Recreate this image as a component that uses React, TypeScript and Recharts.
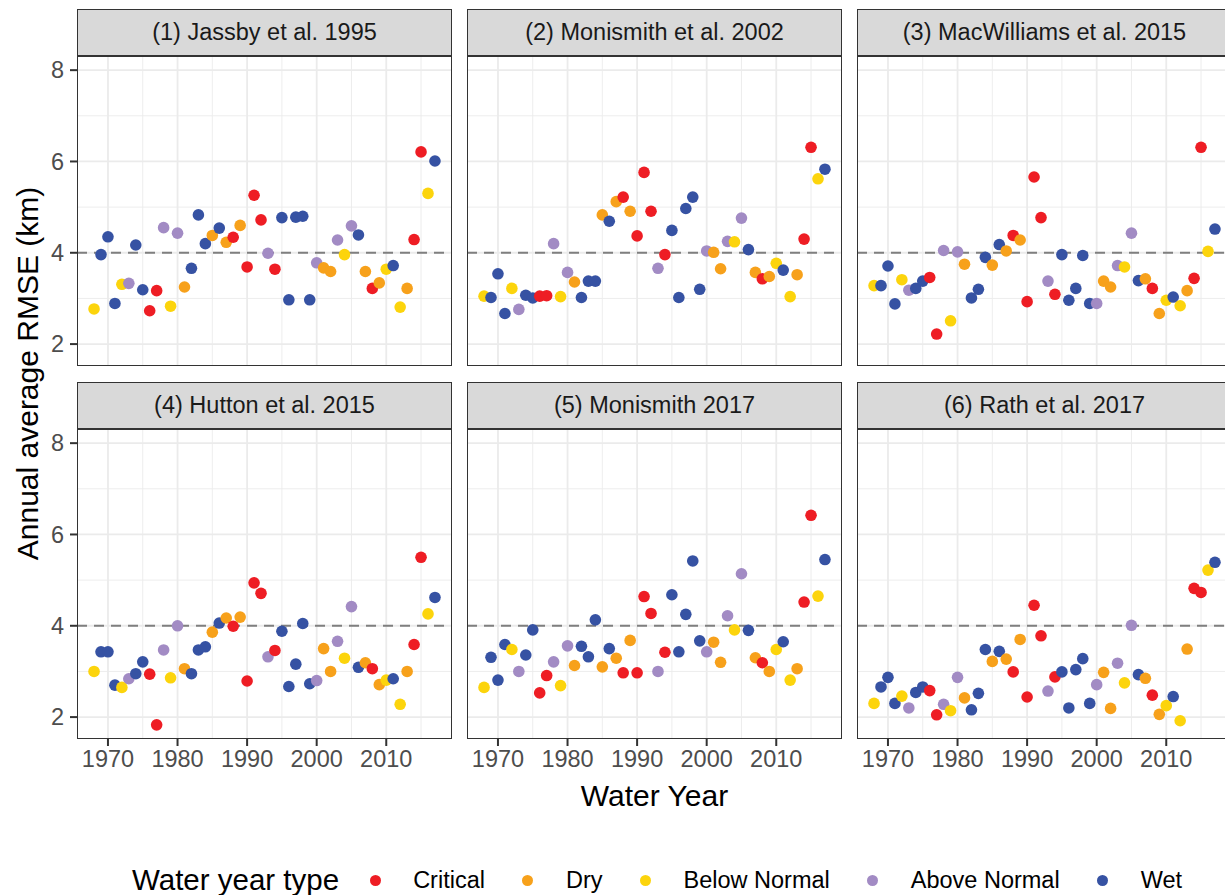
import React from 'react';
import { ScatterChart, Scatter, XAxis, YAxis, CartesianGrid } from 'recharts';

// ---------- data ----------
const YEARS = [
  1968, 1969, 1970, 1971, 1972, 1973, 1974, 1975, 1976, 1977,
  1978, 1979, 1980, 1981, 1982, 1983, 1984, 1985, 1986, 1987,
  1988, 1989, 1990, 1991, 1992, 1993, 1994, 1995, 1996, 1997,
  1998, 1999, 2000, 2001, 2002, 2003, 2004, 2005, 2006, 2007,
  2008, 2009, 2010, 2011, 2012, 2013, 2014, 2015, 2016, 2017,
];

const YEAR_TYPES = [
  'BN', 'W', 'W', 'W', 'BN', 'AN', 'W', 'W', 'C', 'C',
  'AN', 'BN', 'AN', 'D', 'W', 'W', 'W', 'D', 'W', 'D',
  'C', 'D', 'C', 'C', 'C', 'AN', 'C', 'W', 'W', 'W',
  'W', 'W', 'AN', 'D', 'D', 'AN', 'BN', 'AN', 'W', 'D',
  'C', 'D', 'BN', 'W', 'BN', 'D', 'C', 'C', 'BN', 'W',
];

const jassby1995 = [
  2.77, 3.96, 4.35, 2.89, 3.31, 3.33, 4.17, 3.19, 2.73, 3.17,
  4.55, 2.83, 4.43, 3.25, 3.66, 4.83, 4.20, 4.38, 4.54, 4.23,
  4.34, 4.60, 3.69, 5.26, 4.72, 3.99, 3.64, 4.77, 2.97, 4.78,
  4.80, 2.97, 3.78, 3.67, 3.59, 4.28, 3.96, 4.59, 4.39, 3.59,
  3.22, 3.34, 3.64, 3.72, 2.81, 3.22, 4.29, 6.21, 5.30, 6.01,
];

const monismith2002 = [
  3.05, 3.02, 3.54, 2.67, 3.22, 2.76, 3.07, 3.01, 3.05, 3.06,
  4.20, 3.04, 3.57, 3.36, 3.02, 3.38, 3.38, 4.83, 4.69, 5.12,
  5.22, 4.91, 4.37, 5.76, 4.91, 3.66, 3.96, 4.49, 3.02, 4.97,
  5.22, 3.20, 4.04, 4.01, 3.65, 4.25, 4.24, 4.76, 4.07, 3.57,
  3.43, 3.48, 3.77, 3.62, 3.04, 3.52, 4.30, 6.31, 5.62, 5.83,
];

const macwilliams2015 = [
  3.28, 3.28, 3.71, 2.88, 3.41, 3.18, 3.22, 3.38, 3.46, 2.22,
  4.05, 2.51, 4.02, 3.75, 3.01, 3.20, 3.90, 3.73, 4.18, 4.04,
  4.38, 4.28, 2.93, 5.66, 4.77, 3.38, 3.09, 3.96, 2.96, 3.22,
  3.94, 2.89, 2.89, 3.38, 3.25, 3.72, 3.69, 4.43, 3.39, 3.43,
  3.22, 2.67, 2.96, 3.03, 2.84, 3.17, 3.44, 6.31, 4.03, 4.52,
];

const hutton2015 = [
  3.00, 3.43, 3.43, 2.70, 2.65, 2.84, 2.95, 3.21, 2.94, 1.83,
  3.47, 2.86, 4.00, 3.06, 2.95, 3.47, 3.54, 3.86, 4.06, 4.17,
  3.99, 4.19, 2.79, 4.94, 4.71, 3.32, 3.46, 3.88, 2.67, 3.16,
  4.05, 2.73, 2.80, 3.50, 3.00, 3.66, 3.29, 4.42, 3.09, 3.19,
  3.06, 2.71, 2.81, 2.84, 2.28, 3.00, 3.59, 5.50, 4.26, 4.62,
];

const monismith2017 = [
  2.65, 3.31, 2.81, 3.59, 3.48, 3.00, 3.36, 3.91, 2.53, 2.91,
  3.21, 2.69, 3.56, 3.13, 3.55, 3.32, 4.13, 3.10, 3.50, 3.29,
  2.97, 3.68, 2.97, 4.64, 4.27, 3.00, 3.42, 4.68, 3.43, 4.25,
  5.42, 3.67, 3.43, 3.64, 3.20, 4.22, 3.91, 5.14, 3.90, 3.30,
  3.19, 3.00, 3.48, 3.65, 2.81, 3.06, 4.52, 6.42, 4.65, 5.45,
];

const rath2017 = [
  2.30, 2.66, 2.87, 2.30, 2.46, 2.20, 2.54, 2.66, 2.58, 2.05,
  2.28, 2.14, 2.87, 2.42, 2.16, 2.52, 3.48, 3.22, 3.44, 3.27,
  2.99, 3.70, 2.44, 4.45, 3.78, 2.57, 2.88, 2.99, 2.20, 3.04,
  3.28, 2.30, 2.71, 2.98, 2.19, 3.18, 2.75, 4.01, 2.93, 2.85,
  2.48, 2.06, 2.25, 2.45, 1.92, 3.49, 4.82, 4.73, 5.22, 5.39,
];

const PANEL_TITLES = [
  '(1) Jassby et al. 1995',
  '(2) Monismith et al. 2002',
  '(3) MacWilliams et al. 2015',
  '(4) Hutton et al. 2015',
  '(5) Monismith 2017',
  '(6) Rath et al. 2017',
];
const PANEL_VALUES = [jassby1995, monismith2002, macwilliams2015, hutton2015, monismith2017, rath2017];

const TYPE_CODES = ['C', 'D', 'BN', 'AN', 'W'];
const TYPE_NAMES: Record<string, string> = {
  C: 'Critical', D: 'Dry', BN: 'Below Normal', AN: 'Above Normal', W: 'Wet',
};
const TYPE_COLORS: Record<string, string> = {
  C: '#EE1D24', D: '#F7A11B', BN: '#FCD40C', AN: '#A28BC4', W: '#3652A3',
};

const X_TICKS = [1970, 1980, 1990, 2000, 2010];
const X_MINOR = [1975, 1985, 1995, 2005, 2015];
const Y_TICKS = [2, 4, 6, 8];
const Y_MINOR = [3, 5, 7];
const THRESHOLD = [4];

// ---------- layout ----------
const X_DOMAIN: [number, number] = [1965.55, 2019.45];
const Y_DOMAIN: [number, number] = [1.52, 8.31];
const COL_LEFT = [77, 467, 857];
const PLOT_W = 375;
const ROW_TOP = [56, 429];
const PLOT_H = 310;
const STRIP_H = 47;
const FONT = '"Liberation Sans", Arial, Helvetica, sans-serif';
const BORDER = '1.6px solid #333333';

function Dot(props: any) {
  const { cx, cy, payload } = props;
  if (cx == null || cy == null) return null;
  return <circle cx={cx} cy={cy} r={5.8} fill={TYPE_COLORS[payload.type]} />;
}

function Panel({ index }: { index: number }) {
  const col = index % 3;
  const row = Math.floor(index / 3);
  const values = PANEL_VALUES[index];
  const data = YEARS.map((y, i) => ({ year: y, rmse: values[i], type: YEAR_TYPES[i] }));
  const showY = col === 0;
  const showX = row === 1;
  const yAxisW = showY ? 77 : 0;
  const xAxisH = showX ? 45 : 0;
  const plotLeft = COL_LEFT[col];
  const plotTop = ROW_TOP[row];
  return (
    <>
      <div
        style={{
          position: 'absolute', left: plotLeft, top: plotTop - STRIP_H, width: PLOT_W, height: STRIP_H,
          background: '#D9D9D9', border: BORDER, boxSizing: 'border-box',
          display: 'flex', alignItems: 'center', justifyContent: 'center',
          fontSize: 23.5, color: '#1A1A1A', fontFamily: FONT,
        }}
      >
        {PANEL_TITLES[index]}
      </div>
      <div style={{ position: 'absolute', left: plotLeft - yAxisW, top: plotTop }}>
        <ScatterChart
          width={yAxisW + PLOT_W}
          height={PLOT_H + xAxisH}
          margin={{ top: 0, right: 0, bottom: 0, left: 0 }}
        >
          <CartesianGrid
            horizontalValues={Y_MINOR}
            verticalValues={X_MINOR}
            stroke="#EBEBEB"
            strokeWidth={0.9}
          />
          <CartesianGrid
            horizontalValues={Y_TICKS}
            verticalValues={X_TICKS}
            stroke="#EBEBEB"
            strokeWidth={1.8}
          />
          <CartesianGrid
            horizontalValues={THRESHOLD}
            vertical={false}
            stroke="#7F7F7F"
            strokeWidth={2}
            strokeDasharray="10 7"
          />
          <XAxis
            type="number"
            dataKey="year"
            domain={X_DOMAIN}
            ticks={X_TICKS}
            interval={0}
            allowDataOverflow
            hide={!showX}
            height={xAxisH}
            axisLine={false}
            tickSize={7}
            tickMargin={4}
            tickLine={{ stroke: '#333333', strokeWidth: 2 }}
            tick={{ fill: '#4D4D4D', fontSize: 23.5, fontFamily: FONT }}
          />
          <YAxis
            type="number"
            dataKey="rmse"
            domain={Y_DOMAIN}
            ticks={Y_TICKS}
            interval={0}
            allowDataOverflow
            hide={!showY}
            width={yAxisW}
            axisLine={false}
            tickSize={7}
            tickMargin={6}
            tickLine={{ stroke: '#333333', strokeWidth: 2 }}
            tick={{ fill: '#4D4D4D', fontSize: 23.5, fontFamily: FONT }}
          />
          <Scatter data={data} isAnimationActive={false} shape={<Dot />} />
        </ScatterChart>
      </div>
      <div
        style={{
          position: 'absolute', left: plotLeft, top: plotTop, width: PLOT_W, height: PLOT_H,
          border: BORDER, boxSizing: 'border-box', pointerEvents: 'none',
        }}
      />
    </>
  );
}

function Legend() {
  return (
    <div
      style={{
        position: 'absolute', left: 132, top: 863, height: 34,
        display: 'flex', alignItems: 'center', fontFamily: FONT, color: '#000',
      }}
    >
      <span style={{ fontSize: 29.5 }}>Water year type</span>
      {TYPE_CODES.map((c, i) => (
        <span key={c} style={{ display: 'flex', alignItems: 'center', marginLeft: i === 0 ? 23 : 30 }}>
          <span style={{ width: 26, display: 'flex', justifyContent: 'center' }}>
            <span style={{ width: 11, height: 11, borderRadius: '50%', background: TYPE_COLORS[c], display: 'block' }} />
          </span>
          <span style={{ fontSize: 23.5, marginLeft: 25 }}>{TYPE_NAMES[c]}</span>
        </span>
      ))}
    </div>
  );
}

export default function App() {
  return (
    <div
      style={{
        position: 'absolute', left: 0, top: 0, width: 1225, height: 895, overflow: 'hidden',
        background: '#FFFFFF', fontFamily: FONT,
      }}
    >
      <svg width={1225} height={895} style={{ position: 'absolute', left: 0, top: 0 }}>
        <text
          x={654.5}
          y={806}
          textAnchor="middle"
          fontSize={30}
          fontFamily={FONT}
          fill="#000"
        >
          Water Year
        </text>
        <text
          x={38}
          y={373.5}
          textAnchor="middle"
          fontSize={30}
          fontFamily={FONT}
          fill="#000"
          transform="rotate(-90 38 373.5)"
        >
          Annual average RMSE (km)
        </text>
      </svg>
      {PANEL_VALUES.map((_, i) => (
        <Panel key={i} index={i} />
      ))}
      <Legend />
    </div>
  );
}
